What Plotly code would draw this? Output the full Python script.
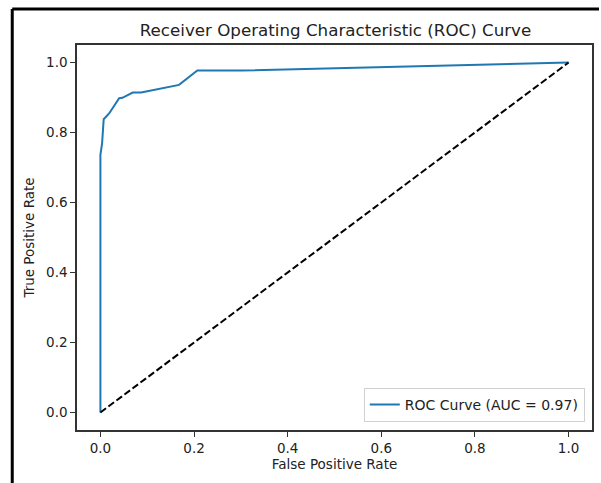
import plotly.graph_objects as go

# ROC curve values
fpr = [0.0, 0.0, 0.0036, 0.007, 0.019, 0.028, 0.033, 0.040, 0.047, 0.069, 0.087, 0.168, 0.207, 0.30, 1.0]
tpr = [0.0, 0.736, 0.769, 0.838, 0.855, 0.874, 0.883, 0.898, 0.899, 0.914, 0.914, 0.936, 0.977, 0.977, 1.0]
diag_x = [0.0, 1.0]
diag_y = [0.0, 1.0]
auc_value = 0.97
tick_vals = [0.0, 0.2, 0.4, 0.6, 0.8, 1.0]

FONT = "DejaVu Sans"

fig = go.Figure()
fig.add_trace(go.Scatter(
    x=fpr, y=tpr, mode="lines",
    line=dict(color="#1f77b4", width=2),
    name=f"ROC Curve (AUC = {auc_value:.2f})",
))
fig.add_trace(go.Scatter(
    x=diag_x, y=diag_y, mode="lines",
    line=dict(color="black", width=2, dash="7px,3px"),
    showlegend=False,
))

axis_common = dict(
    range=[-0.05, 1.05],
    tickvals=tick_vals,
    tickformat=".1f",
    showgrid=False,
    zeroline=False,
    showline=True,
    mirror=True,
    linecolor="#333333",
    linewidth=1.5,
    ticks="outside",
    ticklen=5,
    tickwidth=1.2,
    tickcolor="#333333",
    tickfont=dict(family=FONT, size=13.5, color="#222222"),
)

fig.update_layout(
    width=601, height=483,
    margin=dict(l=77, r=7, t=45, b=53),
    paper_bgcolor="white",
    plot_bgcolor="white",
    font=dict(family=FONT, color="#222222"),
    title=dict(
        text="Receiver Operating Characteristic (ROC) Curve",
        x=(77 + 594) / 2 / 601, xanchor="center",
        y=1 - 30 / 483, yanchor="middle", yref="container",
        font=dict(family=FONT, size=16.7, color="#222222"),
    ),
    xaxis=dict(axis_common, title=dict(text="False Positive Rate", font=dict(family=FONT, size=13.5), standoff=5)),
    yaxis=dict(axis_common, title=dict(text="True Positive Rate", font=dict(family=FONT, size=13.5), standoff=8)),
    legend=dict(
        x=0.986, y=0.021, xanchor="right", yanchor="bottom",
        bgcolor="white", bordercolor="#d0d0d0", borderwidth=1,
        itemwidth=30,
        font=dict(family=FONT, size=14, color="#222222"),
    ),
    shapes=[
        dict(type="line", xref="paper", yref="paper",
             x0=(12 - 77) / 517, x1=(601 - 77) / 517, y0=(430 - 9) / 385, y1=(430 - 9) / 385,
             line=dict(color="black", width=3)),
        dict(type="line", xref="paper", yref="paper",
             x0=(12 - 77) / 517, x1=(12 - 77) / 517, y0=(430 - 9) / 385, y1=(430 - 483) / 385,
             line=dict(color="black", width=3)),
    ],
)

fig.write_html(
    "out.html",
    config={"displayModeBar": False},
    post_script="document.body.style.margin='0';document.body.style.overflow='hidden';",
)
